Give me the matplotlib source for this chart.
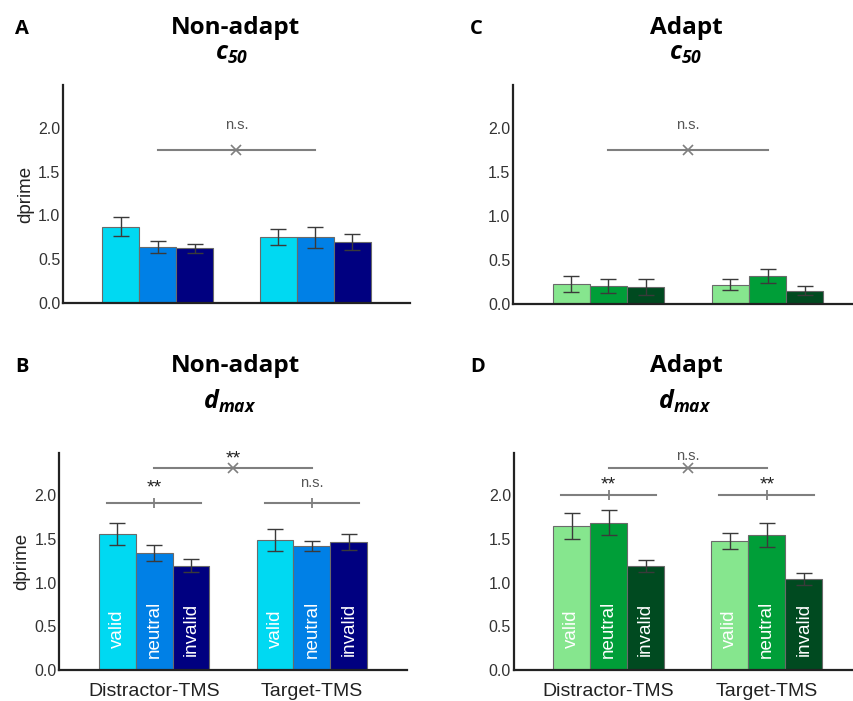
import matplotlib
matplotlib.use("Agg")
import matplotlib.pyplot as plt
import numpy as np

plt.rcParams['font.family'] = ['Liberation Sans', 'DejaVu Sans']
plt.rcParams['mathtext.fontset'] = 'custom'
plt.rcParams['mathtext.bfit'] = 'Open Sans:italic:bold'
plt.rcParams['mathtext.rm'] = 'Open Sans:bold'

# ---------------- data ----------------
groups = ['Distractor-TMS', 'Target-TMS']
conditions = ['valid', 'neutral', 'invalid']

# Panel A: Non-adapt c50
a_valid = [0.87, 0.75]
a_neutral = [0.64, 0.75]
a_invalid = [0.625, 0.70]
a_valid_err = [0.11, 0.09]
a_neutral_err = [0.07, 0.12]
a_invalid_err = [0.05, 0.09]

# Panel B: Non-adapt dmax
b_valid = [1.555, 1.49]
b_neutral = [1.34, 1.42]
b_invalid = [1.195, 1.47]
b_valid_err = [0.125, 0.125]
b_neutral_err = [0.095, 0.06]
b_invalid_err = [0.075, 0.09]

# Panel C: Adapt c50
c_valid = [0.224, 0.22]
c_neutral = [0.205, 0.315]
c_invalid = [0.193, 0.15]
c_valid_err = [0.09, 0.06]
c_neutral_err = [0.08, 0.08]
c_invalid_err = [0.09, 0.05]

# Panel D: Adapt dmax
d_valid = [1.65, 1.477]
d_neutral = [1.69, 1.55]
d_invalid = [1.19, 1.04]
d_valid_err = [0.15, 0.09]
d_neutral_err = [0.145, 0.135]
d_invalid_err = [0.065, 0.07]

# significance annotations: (between-group label, within-group labels)
a_sig = ('n.s.', None)
b_sig = ('**', ['**', 'n.s.'])
c_sig = ('n.s.', None)
d_sig = ('n.s.', ['**', '**'])

yticks = [0.0, 0.5, 1.0, 1.5, 2.0]
ytick_labels = ['0.0', '0.5', '1.0', '1.5', '2.0']

blue_colors = ['#00D9F2', '#0080E6', '#000080']
green_colors = ['#86E68E', '#009E38', '#004A20']

W, H = 854, 701
fig = plt.figure(figsize=(W / 100, H / 100), dpi=100)


def px_rect(left, right, top, bottom):
    return [left / W, 1 - bottom / H, (right - left) / W, (bottom - top) / H]


def sig_text(ax, x, y, lab):
    if lab == 'n.s.':
        ax.text(x, y, lab, ha='center', va='baseline', fontsize=10.5, color='#555555')
    else:
        ax.text(x, y - 0.065, lab, ha='center', va='baseline', fontsize=14, color='#222222')


def draw_panel(ax, means, errs, colors, sig, bar_text, xlabels, ylabel,
               top_y, top_txt_y, grp_y=None, grp_txt_y=None):
    x = np.arange(1, len(groups) + 1)
    w = 0.234
    for i, (m, e, col) in enumerate(zip(means, errs, colors)):
        pos = x + (i - 1) * w
        ax.bar(pos, m, width=w, color=col, edgecolor='#6a6a6a', linewidth=0.8, zorder=2)
        ax.errorbar(pos, m, yerr=e, fmt='none', ecolor='#3a3a3a', elinewidth=1.0,
                    capsize=6, capthick=1.0, zorder=3)
        if bar_text:
            for p in pos:
                ax.text(p, 0.47, conditions[i], rotation=90, color='white',
                        ha='center', va='center', fontsize=13.5, zorder=4)
    # between-group line
    ax.plot([x[0], x[1]], [top_y, top_y], color='#7f7f7f', lw=1.5, zorder=1)
    ax.plot([(x[0] + x[1]) / 2], [top_y], marker='x', color='#7f7f7f', ms=6.5, mew=1.2)
    main_lab, grp_labs = sig
    sig_text(ax, (x[0] + x[1]) / 2, top_txt_y, main_lab)
    if grp_labs is not None:
        for xi, lab in zip(x, grp_labs):
            ax.plot([xi - 0.3, xi + 0.3], [grp_y, grp_y], color='#7f7f7f', lw=1.5, zorder=1)
            ax.plot([xi], [grp_y], marker='|', color='#7f7f7f', ms=6.5, mew=1.3)
            sig_text(ax, xi, grp_txt_y, lab)
    ax.set_xlim(0.4, 2.6)
    ax.set_ylim(0, 2.49)
    ax.set_yticks(yticks)
    ax.set_yticklabels(ytick_labels, fontsize=11.5, color='#333333')
    ax.tick_params(axis='y', length=0, pad=2)
    if xlabels:
        ax.set_xticks(x)
        ax.set_xticklabels(groups, fontsize=14, color='#222222')
        ax.tick_params(axis='x', length=0, pad=9)
    else:
        ax.set_xticks([])
    for s in ['top', 'right']:
        ax.spines[s].set_visible(False)
    for s in ['left', 'bottom']:
        ax.spines[s].set_linewidth(1.6)
        ax.spines[s].set_color('#222222')
    if ylabel:
        ax.set_ylabel('dprime', fontsize=13.5, color='#222222', labelpad=3)
    ax.set_facecolor('none')


axA = fig.add_axes(px_rect(63, 410, 85, 303))
draw_panel(axA, [a_valid, a_neutral, a_invalid], [a_valid_err, a_neutral_err, a_invalid_err],
           blue_colors, a_sig, False, False, True, 1.75, 1.99)

axB = fig.add_axes(px_rect(59.3, 406.7, 452.7, 670))
draw_panel(axB, [b_valid, b_neutral, b_invalid], [b_valid_err, b_neutral_err, b_invalid_err],
           blue_colors, b_sig, True, True, True, 2.31, 2.435, 1.91, 2.10)

axC = fig.add_axes(px_rect(513, 863, 85, 304))
draw_panel(axC, [c_valid, c_neutral, c_invalid], [c_valid_err, c_neutral_err, c_invalid_err],
           green_colors, c_sig, False, False, False, 1.75, 1.99)

axD = fig.add_axes(px_rect(513.7, 861.7, 452.7, 670))
draw_panel(axD, [d_valid, d_neutral, d_invalid], [d_valid_err, d_neutral_err, d_invalid_err],
           green_colors, d_sig, True, True, False, 2.31, 2.41, 2.01, 2.13)


def ftext(xp, yp, s, **kw):
    fig.text(xp / W, 1 - yp / H, s, **kw)


tkw = dict(family='Open Sans', fontweight='bold', fontsize=17.5, ha='center', va='baseline')
ftext(236, 34.5, 'Non-adapt', **tkw)
ftext(236, 372, 'Non-adapt', **tkw)
ftext(686, 34.5, 'Adapt', **tkw)
ftext(686, 372, 'Adapt', **tkw)

skw = dict(fontsize=18, ha='center', va='baseline')
ftext(231.5, 60, r'$\mathbfit{c}_{\mathbfit{50}}$', **skw)
ftext(686, 60, r'$\mathbfit{c}_{\mathbfit{50}}$', **skw)
ftext(230, 409, r'$\mathbfit{d}_{\mathbfit{max}}$', **skw)
ftext(685, 409, r'$\mathbfit{d}_{\mathbfit{max}}$', **skw)

lkw = dict(family='Open Sans', fontweight='bold', fontsize=14.5, ha='left', va='baseline')
ftext(15, 33.5, 'A', **lkw)
ftext(15, 371.5, 'B', **lkw)
ftext(470, 33.5, 'C', **lkw)
ftext(470, 371.5, 'D', **lkw)

fig.savefig('out.png', dpi=100)
